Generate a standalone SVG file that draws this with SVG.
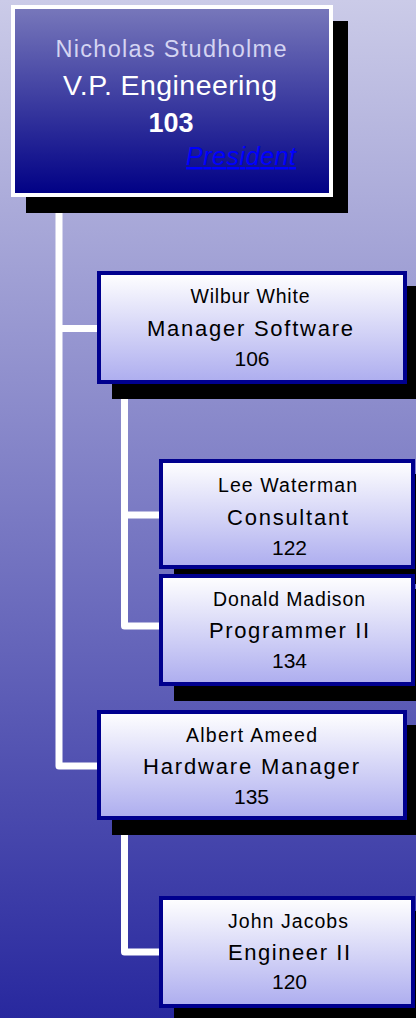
<svg xmlns="http://www.w3.org/2000/svg" width="416" height="1018" viewBox="0 0 416 1018">
  <defs>
    <linearGradient id="bg" x1="0" y1="0" x2="0" y2="1">
      <stop offset="0" stop-color="#cbcbe8"/>
      <stop offset="0.5" stop-color="#7b7bc4"/>
      <stop offset="1" stop-color="#28289e"/>
    </linearGradient>
    <linearGradient id="topfill" x1="0" y1="0" x2="0" y2="1">
      <stop offset="0" stop-color="#7878bb"/>
      <stop offset="1" stop-color="#000085"/>
    </linearGradient>
    <linearGradient id="nodefill" x1="0" y1="0" x2="0" y2="1">
      <stop offset="0" stop-color="#ffffff"/>
      <stop offset="1" stop-color="#adadef"/>
    </linearGradient>
  </defs>
  <style>
    .shadow { fill: #000000; }
    .box { fill: url(#nodefill); stroke: #00008e; stroke-width: 4; }
    .topbox { fill: url(#topfill); stroke: #ffffff; stroke-width: 4; }
    .conn { fill: none; stroke: #ffffff; stroke-width: 7; stroke-linejoin: round; }
    text { font-family: "Liberation Sans", Arial, sans-serif; text-anchor: middle; }
    .name { font-size: 19.5px; fill: #000000; }
    .title { font-size: 22px; fill: #000000; }
    .num { font-size: 21px; fill: #000000; }
  </style>

  <rect x="0" y="0" width="416" height="1018" fill="url(#bg)"/>

  <g id="connectors">
    <path class="conn" d="M59,197 V766 H97"/>
    <path class="conn" d="M59,328.5 H97"/>
    <path class="conn" d="M124.5,384 V626 H159"/>
    <path class="conn" d="M124.5,515 H159"/>
    <path class="conn" d="M124.5,820 V952 H159"/>
  </g>

  <g id="node-103">
    <rect class="shadow" x="26" y="21" width="322" height="192"/>
    <rect class="topbox" x="13" y="7" width="318" height="188"/>
    <text x="171" y="57" font-size="23.5" fill="#d4d4f2" textLength="231" lengthAdjust="spacing">Nicholas Studholme</text>
    <text x="170" y="95" font-size="28.5" fill="#ffffff" textLength="214" lengthAdjust="spacing">V.P. Engineering</text>
    <text x="171" y="132" font-size="27" font-weight="bold" fill="#ffffff">103</text>
    <text x="296" y="165" font-size="25" font-style="italic" fill="#0000ff" text-decoration="underline" style="text-anchor:end" textLength="110" lengthAdjust="spacing">President</text>
  </g>

  <g id="node-106">
    <rect class="shadow" x="112" y="286" width="310" height="113"/>
    <rect class="box" x="99" y="273" width="306" height="109"/>
    <text class="name" x="250" y="303" textLength="119" lengthAdjust="spacing">Wilbur White</text>
    <text class="title" x="250" y="336" textLength="206" lengthAdjust="spacing">Manager Software</text>
    <text class="num" x="252" y="366">106</text>
  </g>

  <g id="node-122">
    <rect class="shadow" x="174" y="474" width="256" height="110"/>
    <rect class="box" x="161" y="461" width="252" height="106"/>
    <text class="name" x="287.5" y="492" textLength="139" lengthAdjust="spacing">Lee Waterman</text>
    <text class="title" x="287.5" y="525" textLength="121" lengthAdjust="spacing">Consultant</text>
    <text class="num" x="289.5" y="555">122</text>
  </g>

  <g id="node-134">
    <rect class="shadow" x="174" y="589" width="256" height="112"/>
    <rect class="box" x="161" y="576" width="252" height="108"/>
    <text class="name" x="289" y="606" textLength="152" lengthAdjust="spacing">Donald Madison</text>
    <text class="title" x="289" y="638" textLength="160" lengthAdjust="spacing">Programmer II</text>
    <text class="num" x="289.5" y="668">134</text>
  </g>

  <g id="node-135">
    <rect class="shadow" x="112" y="725" width="310" height="110"/>
    <rect class="box" x="99" y="712" width="306" height="106"/>
    <text class="name" x="251.5" y="742" textLength="131" lengthAdjust="spacing">Albert Ameed</text>
    <text class="title" x="251" y="774" textLength="216" lengthAdjust="spacing">Hardware Manager</text>
    <text class="num" x="251.5" y="804">135</text>
  </g>

  <g id="node-120">
    <rect class="shadow" x="174" y="911" width="256" height="112"/>
    <rect class="box" x="161" y="898" width="252" height="108"/>
    <text class="name" x="288" y="928" textLength="120" lengthAdjust="spacing">John Jacobs</text>
    <text class="title" x="289" y="960" textLength="122" lengthAdjust="spacing">Engineer II</text>
    <text class="num" x="289.5" y="989">120</text>
  </g>
</svg>
